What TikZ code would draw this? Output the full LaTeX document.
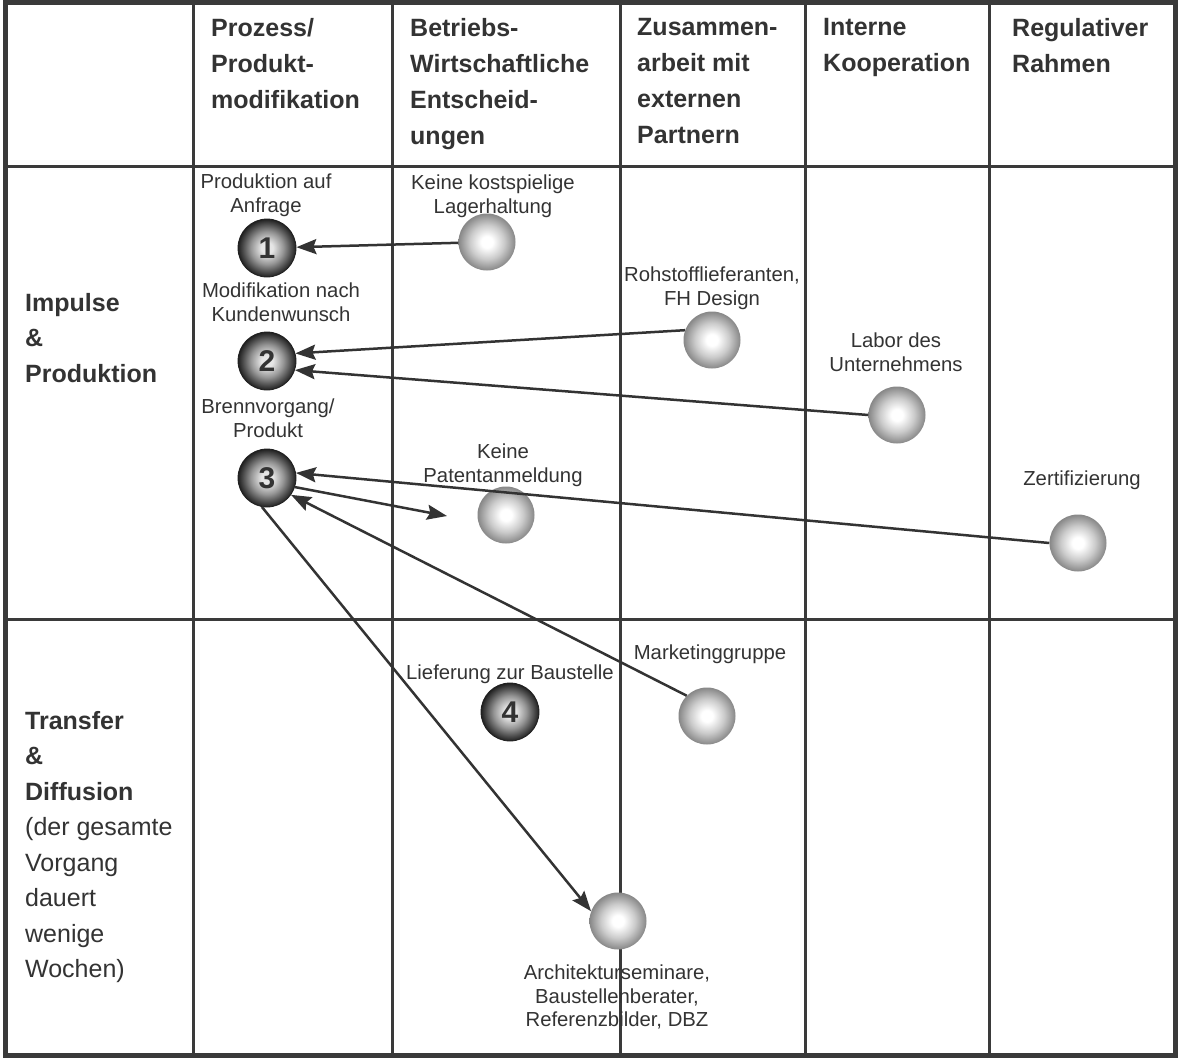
\documentclass[tikz,border=0pt]{standalone}
\usepackage{fontspec}
\setmainfont{Liberation Sans}
\usetikzlibrary{arrows.meta}
\definecolor{ink}{HTML}{333333}
\definecolor{rulec}{HTML}{3A3A3A}
\definecolor{gballedge}{HTML}{878787}
\definecolor{gballmid}{HTML}{CBCBCB}
\definecolor{dballc}{HTML}{E6E6E6}
\definecolor{dballm}{HTML}{969696}
\definecolor{dballd}{HTML}{4A4A4A}
\definecolor{dballe}{HTML}{202020}
\pgfdeclareradialshading{greyball}{\pgfpoint{0bp}{0bp}}{color(0bp)=(white); color(5bp)=(white); color(15bp)=(gballmid); color(25bp)=(gballedge); color(50bp)=(gballedge)}
\pgfdeclareradialshading{darkball}{\pgfpoint{0bp}{0bp}}{color(0bp)=(dballc); color(5bp)=(dballc); color(14bp)=(dballm); color(21bp)=(dballd); color(25bp)=(dballe); color(50bp)=(dballe)}
\tikzset{
  gball/.style={circle, minimum size=57pt, inner sep=0pt, shading=greyball},
  dball/.style={circle, minimum size=58pt, inner sep=0pt, shading=darkball, draw=dballe, line width=0.8pt,
    font=\bfseries\fontsize{30}{30}\selectfont, text=ink},
  lbl/.style={font=\fontsize{20.3}{23.5}\selectfont, text=ink, align=center, inner sep=0pt},
  hdr/.style={font=\bfseries\fontsize{25}{36}\selectfont, text=ink, align=left, anchor=north west, inner sep=0pt},
  rowlbl/.style={font=\fontsize{25}{35.5}\selectfont, text=ink, align=left, anchor=north west, inner sep=0pt},
  arr/.style={draw=ink, line width=2.5pt, -{Stealth[length=20pt,width=15pt,inset=3pt]}},
  gridline/.style={draw=rulec, line width=3pt},
}
\begin{document}
\begin{tikzpicture}[x=1pt,y=-1pt]
\useasboundingbox (0,0) rectangle (1179,1058);
\fill[white] (0,0) rectangle (1179,1058);
% grid
\foreach \x in {193,392,620,805,989} \draw[gridline] (\x,3) -- (\x,1055);
\foreach \y in {166,619} \draw[gridline] (3,\y) -- (1176,\y);
\draw[draw=rulec, line width=5pt] (5.5,2.5) rectangle (1175.5,1055.5);
% headers
\node[hdr] (hA) at (211,18) {Prozess/\\Produkt-\\modifikation};
\node[hdr] (hB) at (410,18) {Betriebs-\\Wirtschaftliche\\Entscheid-\\ungen};
\node[hdr] (hC) at (637,18) {Zusammen-\\arbeit mit\\externen\\Partnern};
\node[hdr] (hD) at (823,18) {Interne\\Kooperation};
\node[hdr] (hE) at (1012,18) {Regulativer\\Rahmen};
% row labels
\node[rowlbl] (rA) at (25,293) {\textbf{Impulse}\\\textbf{\&}\\\textbf{Produktion}};
\node[rowlbl] (rB) at (25,711) {\textbf{Transfer}\\\textbf{\&}\\\textbf{Diffusion}\\(der gesamte\\Vorgang\\dauert\\wenige\\Wochen)};
% balls
\node[dball] (b1) at (267,248) {1};
\node[dball] (b2) at (267,361) {2};
\node[dball] (b3) at (267,478) {3};
\node[dball] (b4) at (510,712) {4};
\node[gball] (lager) at (487,242) {};
\node[gball] (roh) at (712,340) {};
\node[gball] (labor) at (897,415) {};
\node[gball] (pat) at (506,515) {};
\node[gball] (zert) at (1078,543) {};
\node[gball] (mkt) at (707,716) {};
\node[gball] (arch) at (618,921) {};
% labels
\node[lbl] (l1) at (266,195) {Produktion auf\\Anfrage};
\node[lbl] (l2) at (281,302) {Modifikation nach\\Kundenwunsch};
\node[lbl] (l3) at (268,418) {Brennvorgang/\\Produkt};
\node[lbl] (l4) at (510,674) {Lieferung zur Baustelle};
\node[lbl] (llager) at (493,196) {Keine kostspielige\\Lagerhaltung};
\node[lbl] (lroh) at (712,288) {Rohstofflieferanten,\\FH Design};
\node[lbl] (llabor) at (896,352) {Labor des\\Unternehmens};
\node[lbl] (lpat) at (503,465) {Keine\\Patentanmeldung};
\node[lbl] (lzert) at (1082,480) {Zertifizierung};
\node[lbl] (lmkt) at (710,654) {Marketinggruppe};
\node[lbl] (larch) at (617,997) {Architekturseminare,\\Baustellenberater,\\Referenzbilder, DBZ};
% arrows
\coordinate (pt) at (447,516);
\draw[arr] (lager) -- (b1);
\draw[arr] (roh.160) -- (b2.15);
\draw[arr] (labor.180) -- (b2.-18);
\draw[arr] (zert.180) -- (b3.10);
\draw[arr] (b3.-18) -- (pt);
\draw[arr] (mkt.135) -- (b3.-35);
\draw[arr] (b3.-100) -- (arch.160);
\end{tikzpicture}
\end{document}
